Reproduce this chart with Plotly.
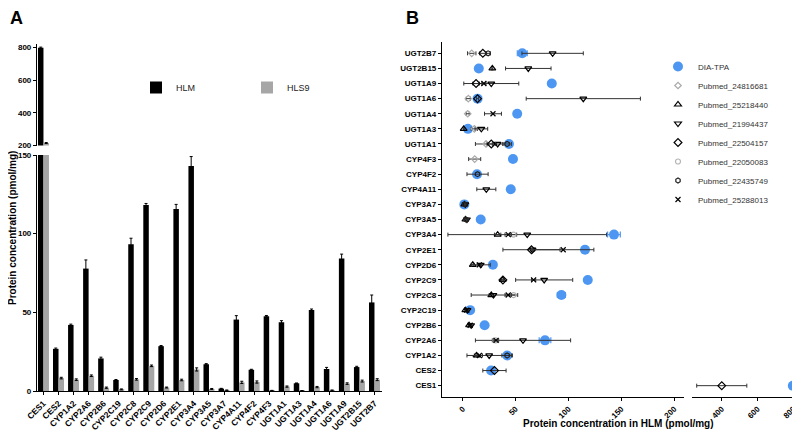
import plotly.graph_objects as go

# enzymes, same order in both panels (CES1 first / bottom)
enzymes = ["CES1", "CES2", "CYP1A2", "CYP2A6", "CYP2B6", "CYP2C19", "CYP2C8", "CYP2C9",
           "CYP2D6", "CYP2E1", "CYP3A4", "CYP3A5", "CYP3A7", "CYP4A11", "CYP4F2", "CYP4F3",
           "UGT1A1", "UGT1A3", "UGT1A4", "UGT1A6", "UGT1A9", "UGT2B15", "UGT2B7"]

# panel A - HLM / HLS9 (pmol/mg)
hlm = [797, 26.8, 42, 77.8, 20.7, 7, 93.3, 118.2, 28.5, 115.6, 143, 17, 1.5, 45.4,
       13.5, 47.5, 43.7, 4.9, 51.5, 14, 84.2, 15.2, 56.3]
hlm_err = [4, 0.5, 0.5, 5.5, 0.8, 0.3, 3.8, 1, 0.4, 3, 6, 0.4, 0.2, 2.5,
           0.3, 0.5, 1, 0.2, 0.6, 1, 2.8, 0.5, 4.7]
hls9 = [215, 8.2, 7.2, 9.7, 2.1, 1, 7.4, 16, 2.2, 7, 13.7, 1.3, 0.5, 5.5,
        5.7, 0.3, 2.8, 0.2, 2.5, 0.5, 4.7, 6.3, 7.2]
hls9_err = [3, 0.5, 0.5, 0.5, 0.4, 0.3, 0.5, 0.5, 0.3, 0.5, 1, 0.3, 0.1, 0.7,
            0.7, 0.1, 0.4, 0.1, 0.4, 0.1, 0.5, 0.6, 0.6]

# panel B - literature values {enzyme: (mean, sd)}
pm_24816681 = {"UGT2B7": (8.5, 4), "UGT1A6": (5.3, 2), "UGT1A4": (4.7, 1.5), "UGT1A3": (11, 3),
               "UGT1A1": (22, 10), "CYP4F3": (11.3, 5.7)}
pm_25218440 = {"UGT2B15": (28, 0.5), "UGT1A3": (0.9, 0.5), "CYP3A4": (33, 3), "CYP2D6": (9.5, 1),
               "CYP1A2": (13, 2), "CYP2B6": (6, 1), "CYP2C19": (2.5, 0.5), "CYP3A5": (2.5, 0.5),
               "CYP3A7": (1.5, 0.5), "CYP2C9": (37.8, 1), "CYP2C8": (27, 2)}
pm_21994437 = {"UGT2B7": (85, 29), "UGT2B15": (62, 21.5), "UGT1A9": (27, 26), "UGT1A6": (114, 54),
               "UGT1A3": (17.6, 6), "UGT1A1": (33, 5), "CYP4A11": (22.3, 9), "CYP3A4": (61, 75),
               "CYP2C9": (77, 27), "CYP2C8": (29, 21), "CYP2A6": (57, 45), "CYP1A2": (25, 21),
               "CYP2D6": (17, 9), "CYP3A7": (2.5, 1), "CYP3A5": (4, 1), "CYP2B6": (8, 1),
               "CYP2C19": (4.5, 1), "CYP2E1": (66, 2)}
pm_22504157 = {"CES1": (400, 140), "CES2": (30, 11), "UGT2B7": (19, 3), "UGT1A9": (12.6, 3),
               "UGT1A6": (14, 1), "UGT1A1": (27, 4), "CYP2E1": (65, 27), "CYP2C9": (38, 1)}
pm_22050083 = {"CYP3A4": (48, 3), "CYP2C8": (48, 4), "CYP2A6": (31, 3)}
pm_22435749 = {"CYP4F2": (14, 10), "UGT2B7": (24, 2), "UGT1A1": (42, 4), "CYP1A2": (42, 5),
               "CYP3A7": (2, 0.5), "CYP3A5": (3, 1)}
pm_25288013 = {"UGT1A4": (28.6, 8), "UGT1A9": (20, 2), "CYP2E1": (95, 29), "CYP2C9": (67, 2),
               "CYP2C8": (43, 3), "CYP3A4": (43, 3), "CYP2A6": (31.5, 2), "CYP2D6": (15.7, 2),
               "CYP1A2": (15.7, 3), "CYP2C19": (3.8, 1), "CYP2B6": (7, 1)}

# page body has an 8px margin, so the figure is 792x424 and positions are shifted by 8
OFF = 8
W, H = 800 - OFF, 432 - OFF
FONT = "Liberation Sans, Arial, sans-serif"
BLUE = "#4d97f2"

def px(x):
    return (x - OFF) / W

def py(y):
    return 1 - (y - OFF) / H

fig = go.Figure()

# ---- panel A: bars on bottom (y) and top (y2) segments
for ax, show in (("y", True), ("y2", False)):
    fig.add_trace(go.Bar(x=enzymes, y=hlm, name="HLM", marker_color="black", yaxis=ax,
                         showlegend=show, legend="legend",
                         error_y=dict(type="data", array=hlm_err, color="black", thickness=1, width=1.5)))
    fig.add_trace(go.Bar(x=enzymes, y=hls9, name="HLS9", marker_color="#a6a6a6", yaxis=ax,
                         showlegend=show, legend="legend",
                         error_y=dict(type="data", array=hls9_err, color="black", thickness=1, width=1.5)))

# ---- panel B: dot plot, split x axis (x2 left, x3 right)
studies = [
    ("Pubmed_24816681", pm_24816681, "diamond-open", 5, "#aaaaaa"),
    ("Pubmed_25218440", pm_25218440, "triangle-up-open", 6, "black"),
    ("Pubmed_21994437", pm_21994437, "triangle-down-open", 6, "black"),
    ("Pubmed_22504157", pm_22504157, "diamond-open", 6, "black"),
    ("Pubmed_22050083", pm_22050083, "circle-open", 5, "#b5b5b5"),
    ("Pubmed_22435749", pm_22435749, "hexagon-open", 5, "#222222"),
    ("Pubmed_25288013", pm_25288013, "x-thin-open", 5, "black"),
]

for xa, show in (("x2", True), ("x3", False)):
    fig.add_trace(go.Scatter(x=hlm, y=enzymes, mode="markers", name="DIA-TPA",
                             xaxis=xa, yaxis="y3", showlegend=show, legend="legend2",
                             marker=dict(symbol="circle", size=10, color=BLUE),
                             error_x=dict(type="data", array=hlm_err, color=BLUE, thickness=1.2, width=3)))
    for name, d, sym, size, col in studies:
        ys = list(d.keys())
        fig.add_trace(go.Scatter(
            x=[d[k][0] for k in ys], y=ys, mode="markers", name=name,
            xaxis=xa, yaxis="y3", showlegend=show, legend="legend2",
            marker=dict(symbol=sym, size=size, color=col, line=dict(width=1.2, color=col)),
            error_x=dict(type="data", array=[d[k][1] for k in ys], color="#333333",
                         thickness=1, width=2)))

tickA = dict(family=FONT, size=8, color="black", weight="bold")
tickB = dict(family=FONT, size=8, color="black", weight="bold")
axcommon = dict(showline=True, linecolor="black", linewidth=1.2, ticks="outside",
                ticklen=3, tickcolor="black", showgrid=False, zeroline=False, automargin=False)

fig.update_layout(
    template="none",
    width=W, height=H, margin=dict(l=0, r=0, t=0, b=0, autoexpand=False),
    paper_bgcolor="white", plot_bgcolor="white",
    barmode="group", bargap=0.27, bargroupgap=0,
    xaxis=dict(domain=[px(37), px(382)], anchor="y", type="category",
               categoryorder="array", categoryarray=enzymes, range=[-0.43, 22.5],
               tickangle=-45, tickfont=dict(family=FONT, size=8.5, color="black", weight="bold"),
               **axcommon),
    yaxis=dict(domain=[py(391), py(155)], anchor="x", range=[0, 150],
               tickvals=[0, 50, 100, 150], tickfont=tickA, **axcommon),
    yaxis2=dict(domain=[py(145.5), py(44)], anchor="x", range=[200, 820],
                tickvals=[200, 400, 600, 800], tickfont=tickA, **axcommon),
    xaxis2=dict(domain=[px(442), px(684.3)], anchor="y3", range=[-19.6, 209.5],
                tickvals=[0, 50, 100, 150, 200], tickangle=-45, tickfont=tickB, **axcommon),
    xaxis3=dict(domain=[px(691.7), px(798)], anchor="y3", range=[232, 826],
                tickvals=[400, 600, 800], tickangle=-45, tickfont=tickB, **axcommon),
    yaxis3=dict(domain=[py(397), py(42)], anchor="x2", type="category",
                categoryorder="array", categoryarray=enzymes, range=[-0.75, 22.75],
                tickfont=tickB, **axcommon),
    legend=dict(orientation="h", x=px(136), y=py(73), xanchor="left", yanchor="top",
                entrywidth=66, entrywidthmode="pixels", bgcolor="rgba(0,0,0,0)",
                font=dict(family=FONT, size=9, color="#222222")),
    legend2=dict(x=px(658), y=py(52), xanchor="left", yanchor="top", tracegroupgap=0,
                 bgcolor="rgba(0,0,0,0)", font=dict(family=FONT, size=8, color="#333333")),
    annotations=[
        dict(text="<b>A</b>", x=px(8), y=py(6), xref="paper", yref="paper", xanchor="left",
             yanchor="top", showarrow=False, font=dict(family=FONT, size=18, color="black")),
        dict(text="<b>B</b>", x=px(404), y=py(6), xref="paper", yref="paper", xanchor="left",
             yanchor="top", showarrow=False, font=dict(family=FONT, size=18, color="black")),
        dict(text="<b>Protein concentration (pmol/mg)</b>", x=px(12), y=py(228),
             xref="paper", yref="paper", xanchor="center", yanchor="middle", textangle=-90,
             showarrow=False, font=dict(family=FONT, size=10, color="black")),
        dict(text="<b>Protein concentration in HLM (pmol/mg)</b>", x=px(618), y=py(423),
             xref="paper", yref="paper", xanchor="center", yanchor="middle",
             showarrow=False, font=dict(family=FONT, size=10, color="black")),
    ],
)

fig.write_html("out.html")
